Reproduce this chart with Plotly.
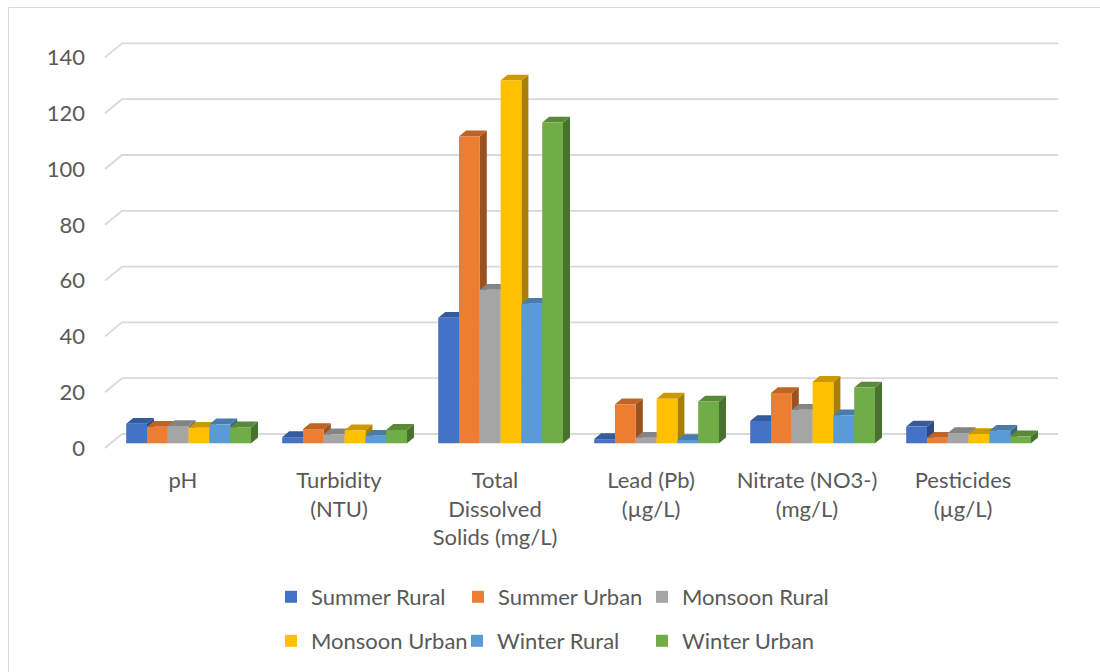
import plotly.graph_objects as go

# ---- data -------------------------------------------------------------
categories = [
    "pH",
    "Turbidity<br>(NTU)",
    "Total<br>Dissolved<br>Solids (mg/L)",
    "Lead (Pb)<br>(µg/L)",
    "Nitrate (NO3-)<br>(mg/L)",
    "Pesticides<br>(µg/L)",
]
series_names = ["Summer Rural", "Summer Urban", "Monsoon Rural",
                "Monsoon Urban", "Winter Rural", "Winter Urban"]
summer_rural = [7.0, 2.2, 45, 1.5, 8, 6.0]
summer_urban = [5.9, 5.1, 110, 14, 18, 2.0]
monsoon_rural = [6.2, 3.2, 55, 2.0, 12, 3.7]
monsoon_urban = [5.6, 4.7, 130, 16, 22, 3.3]
winter_rural = [6.8, 2.7, 50, 1.2, 10, 4.5]
winter_urban = [5.7, 4.8, 115, 15, 20, 2.5]
y_ticks = [0, 20, 40, 60, 80, 100, 120, 140]

series_values = [summer_rural, summer_urban, monsoon_rural,
                 monsoon_urban, winter_rural, winter_urban]
colors = ["#4472C4", "#ED7D31", "#A5A5A5", "#FFC000", "#5B9BD5", "#70AD47"]

# ---- pseudo-3D geometry (pixels) --------------------------------------
W, H = 1100, 672
L, R, T, B = 100, 1070, 30, 460          # plot domain in pixels
CAT_W = 156.0                            # px per category on the front plane
PPU = 2.79                               # px per value unit
X0, Y0 = 183.0, 448.0                    # front plane: category 0 / value 0
WALL = (17.0, -14.0)                     # front plane -> back wall offset
BAR_OFF = (5.6, -4.7)                    # front plane -> bar front faces
BAR_DEPTH = (7.0, -5.8)                  # bar front face -> bar back face
GROUP = 0.8                              # share of a category used by a cluster
n_series = len(series_names)
bw = GROUP / n_series

TEXT = "#595959"
GRID = "#d9d9d9"
FONT = "Lato"
FS = 22


def shade(hex_color, f):
    h = hex_color.lstrip("#")
    r, g, b = (int(h[i:i + 2], 16) for i in (0, 2, 4))
    return "rgb(%d,%d,%d)" % (round(r * f), round(g * f), round(b * f))


def plane_ranges(ox, oy):
    xr = [(L - X0 - ox) / CAT_W, (R - X0 - ox) / CAT_W]
    yr = [(Y0 + oy - B) / PPU, (Y0 + oy - T) / PPU]
    return xr, yr


def px_to_bar_plane(px, py):
    return (px - X0 - BAR_OFF[0]) / CAT_W, (Y0 + BAR_OFF[1] - py) / PPU


bar_xr, bar_yr = plane_ranges(*BAR_OFF)
front_xr, front_yr = plane_ranges(0, 0)
ddx = BAR_DEPTH[0] / CAT_W
ddy = -BAR_DEPTH[1] / PPU

fig = go.Figure()

# back-wall gridlines with the short side-wall diagonal at the left
gx, gy = [], []
for g in y_ticks:
    pyf = Y0 - PPU * g
    pts = [(X0 - 0.5 * CAT_W, pyf),
           (X0 - 0.5 * CAT_W + WALL[0], pyf + WALL[1]),
           (X0 + (len(categories) - 0.5) * CAT_W + WALL[0], pyf + WALL[1])]
    for p in pts:
        cx, cy = px_to_bar_plane(*p)
        gx.append(cx)
        gy.append(cy)
    gx.append(None)
    gy.append(None)
fig.add_trace(go.Scatter(x=gx, y=gy, mode="lines", xaxis="x", yaxis="y",
                         line=dict(color=GRID, width=1.8),
                         hoverinfo="skip", showlegend=False))

# side and top faces of the columns (under the front faces)
for j, vals in enumerate(series_values):
    sx, sy, tx, ty = [], [], [], []
    for i, v in enumerate(vals):
        xl = i - GROUP / 2 + j * bw
        xr = xl + bw
        sx += [xr, xr + ddx, xr + ddx, xr, xr, None]
        sy += [0, ddy, v + ddy, v, 0, None]
        tx += [xl, xr, xr + ddx, xl + ddx, xl, None]
        ty += [v, v, v + ddy, v + ddy, v, None]
    fig.add_trace(go.Scatter(x=sx, y=sy, mode="lines", fill="toself",
                             fillcolor=shade(colors[j], 0.66),
                             line=dict(width=0, color=shade(colors[j], 0.66)),
                             xaxis="x", yaxis="y", hoverinfo="skip",
                             showlegend=False))
    fig.add_trace(go.Scatter(x=tx, y=ty, mode="lines", fill="toself",
                             fillcolor=shade(colors[j], 0.8),
                             line=dict(width=0, color=shade(colors[j], 0.8)),
                             xaxis="x", yaxis="y", hoverinfo="skip",
                             showlegend=False))

# front faces of the columns
legend_ids = ["legend", "legend2", "legend3", "legend4", "legend5", "legend6"]
for j, (name, vals) in enumerate(zip(series_names, series_values)):
    fig.add_trace(go.Bar(
        x=list(range(len(categories))), y=vals, name=name,
        width=bw, offset=-GROUP / 2 + j * bw,
        marker=dict(color=colors[j], line=dict(width=0)),
        xaxis="x2", yaxis="y2", legend=legend_ids[j],
    ))

# the front-plane axes carry the tick labels
fig.add_trace(go.Scatter(x=[None], y=[None], mode="markers",
                         xaxis="x3", yaxis="y3", hoverinfo="skip",
                         showlegend=False))

# legend placement: two rows of three
legend_text_x = [311, 498, 682, 311, 497, 682]
legend_row_y = [597, 597, 597, 641, 641, 641]
legends = {}
for k, lid in enumerate(legend_ids):
    legends[lid] = dict(
        x=(legend_text_x[k] - 40) / W, y=1 - legend_row_y[k] / H,
        xanchor="left", yanchor="middle", orientation="h",
        bgcolor="rgba(0,0,0,0)", borderwidth=0,
        font=dict(family=FONT, size=FS, color=TEXT),
    )

fig.update_layout(
    width=W, height=H,
    margin=dict(l=0, r=0, t=0, b=0, pad=0),
    paper_bgcolor="white", plot_bgcolor="rgba(0,0,0,0)",
    barmode="overlay",
    font=dict(family=FONT, size=FS, color=TEXT),
    xaxis=dict(domain=[L / W, R / W], range=bar_xr, visible=False),
    yaxis=dict(domain=[1 - B / H, 1 - T / H], range=bar_yr, visible=False),
    xaxis2=dict(overlaying="x", range=bar_xr, visible=False),
    yaxis2=dict(overlaying="y", range=bar_yr, visible=False),
    xaxis3=dict(overlaying="x", anchor="y3", range=front_xr,
                tickmode="array", tickvals=list(range(len(categories))),
                ticktext=categories, showgrid=False, zeroline=False,
                showline=False, ticks="", ticklabelstandoff=5,
                tickfont=dict(family=FONT, size=FS, color=TEXT)),
    yaxis3=dict(overlaying="y", anchor="x3", side="left", range=front_yr,
                tickmode="array", tickvals=y_ticks, showgrid=False,
                zeroline=False, showline=False, ticks="",
                ticklabelstandoff=14,
                tickfont=dict(family=FONT, size=FS, color=TEXT)),
    shapes=[dict(type="rect", xref="paper", yref="paper",
                 x0=8.5 / W, x1=1.01, y0=-0.01, y1=1 - 7.5 / H,
                 line=dict(color=GRID, width=1), fillcolor="rgba(0,0,0,0)",
                 layer="below")],
    **legends,
)

fig.write_html("out.html")
